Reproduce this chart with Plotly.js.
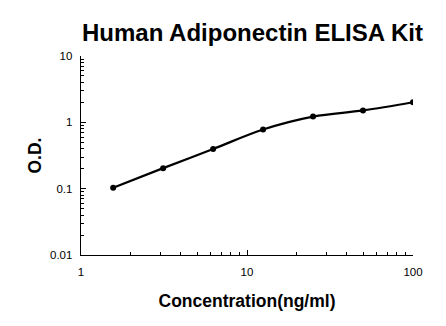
<!DOCTYPE html>
<html>
<head>
<meta charset="utf-8">
<script src="https://cdn.plot.ly/plotly-3.0.1.min.js"></script>
<style>html,body{margin:0;padding:0;background:#fff;}#chart{width:446px;height:326px;}</style>
</head>
<body>
<div id="chart"></div>
<script>
var concentration = [1.5625, 3.125, 6.25, 12.5, 25, 50, 100];
var od = [0.103, 0.204, 0.396, 0.78, 1.22, 1.51, 2.01];
var xTicks = [1, 10, 100];
var xTickText = ["1", "10", "100"];
var yTicks = [0.01, 0.1, 1, 10];
var yTickText = ["0.01", "0.1", "1", "10"];

var fontFam = "Arial, 'Liberation Sans', sans-serif";

var trace = {
  x: concentration,
  y: od,
  type: 'scatter',
  mode: 'lines+markers',
  line: {color: '#000', width: 2.2, shape: 'spline', smoothing: 1},
  marker: {color: '#000', size: 6},
  hoverinfo: 'skip'
};

var layout = {
  width: 446, height: 326,
  margin: {l: 81, r: 33, t: 56, b: 71},
  paper_bgcolor: '#fff', plot_bgcolor: '#fff',
  showlegend: false,
  font: {family: fontFam, color: '#000', size: 11},
  title: {text: '<b>Human Adiponectin ELISA Kit</b>', font: {family: fontFam, size: 24, color: '#000'}, x: 0.566, xanchor: 'center', y: 0.9, yanchor: 'middle', yref: 'container'},
  xaxis: {
    type: 'log', range: [0, 2],
    tickvals: xTicks, ticktext: xTickText,
    ticks: 'inside', ticklen: 5, tickwidth: 1, tickcolor: '#000',
    minor: {ticks: 'inside', ticklen: 3, tickwidth: 1, tickcolor: '#000', tickvals: [2,3,4,5,6,7,8,9,20,30,40,50,60,70,80,90]},
    showgrid: false, zeroline: false,
    showline: true, linecolor: '#000', linewidth: 1.3,
    tickfont: {size: 11.5},
    ticklabelstandoff: 6,
    title: {text: '<b>Concentration(ng/ml)</b>', font: {size: 17.5}, standoff: 17}
  },
  yaxis: {
    type: 'log', range: [-2, 1],
    tickvals: yTicks, ticktext: yTickText,
    ticks: 'inside', ticklen: 5, tickwidth: 1, tickcolor: '#000',
    minor: {ticks: 'inside', ticklen: 3, tickwidth: 1, tickcolor: '#000', tickvals: [0.02,0.03,0.04,0.05,0.06,0.07,0.08,0.09,0.2,0.3,0.4,0.5,0.6,0.7,0.8,0.9,2,3,4,5,6,7,8,9]},
    showgrid: false, zeroline: false,
    showline: true, linecolor: '#000', linewidth: 1.3,
    tickfont: {size: 11.5},
    ticklabelstandoff: 5,
    title: {text: '<b>O.D.</b>', font: {size: 17.5}, standoff: 4}
  }
};

Plotly.newPlot('chart', [trace], layout, {displayModeBar: false, staticPlot: true});
</script>
</body>
</html>
